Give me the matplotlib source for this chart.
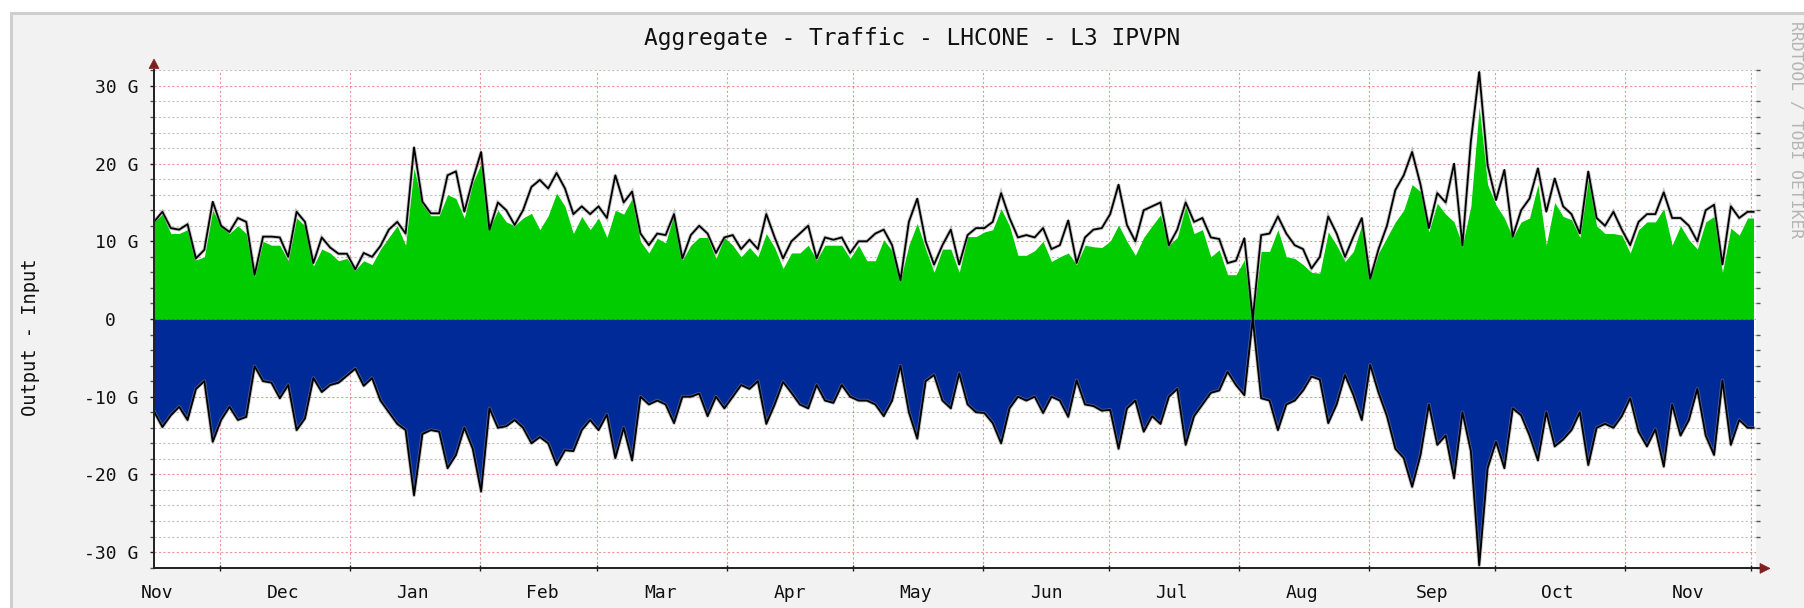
import numpy as np
import matplotlib
matplotlib.use("Agg")
import matplotlib.pyplot as plt
import matplotlib.dates as mdates
import pandas as pd
from matplotlib.patches import Rectangle, Polygon

# ---------------- data (Gb/s, one sample every 2 days) ----------------
start = pd.Timestamp("2016-11-15 07:00")
span_days = 382
sample_days = list(range(0, 381, 2))

# black line, input side (total)
in_total = [
    12.5, 13.8, 11.7, 11.5, 12.2, 7.8, 8.9, 15.1, 12.0, 11.2,
    13.0, 12.5, 5.7, 10.6, 10.6, 10.5, 8.0, 13.8, 12.5, 7.2,
    10.5, 9.2, 8.4, 8.4, 6.4, 8.5, 8.0, 9.4, 11.5, 12.5,
    11.0, 22.1, 15.1, 13.6, 13.6, 18.5, 19.0, 13.8, 17.9, 21.5,
    11.5, 15.0, 14.0, 12.1, 14.0, 17.0, 17.9, 16.8, 18.8, 16.8,
    13.5, 14.5, 13.5, 14.5, 13.0, 18.5, 15.0, 16.4, 11.0, 9.5,
    11.0, 10.8, 13.5, 7.8, 10.8, 12.0, 11.0, 8.5, 10.5, 10.8,
    9.0, 10.2, 9.0, 13.5, 10.5, 7.8, 10.0, 11.0, 12.0, 7.8,
    10.5, 10.2, 10.5, 8.5, 10.0, 10.0, 11.0, 11.5, 9.5, 5.0,
    12.5, 15.5, 10.0, 7.0, 9.5, 11.5, 7.0, 10.8, 11.7, 11.7,
    12.5, 16.2, 13.0, 10.5, 10.8, 10.5, 11.7, 9.0, 9.5, 12.7,
    7.2, 10.5, 11.5, 11.7, 13.5, 17.3, 12.1, 10.0, 14.0, 14.5,
    15.0, 9.5, 11.5, 15.0, 12.5, 13.0, 10.5, 10.3, 7.2, 7.5,
    10.4, 0.0, 10.8, 11.0, 13.2, 11.0, 9.5, 9.0, 6.5, 8.0,
    13.2, 11.0, 8.0, 10.6, 13.0, 5.2, 9.0, 12.0, 16.6, 18.5,
    21.5, 17.3, 11.7, 16.2, 15.0, 20.0, 9.5, 22.8, 31.8, 19.8,
    15.3, 19.2, 10.6, 14.0, 15.5, 19.4, 13.8, 18.1, 14.5, 13.5,
    11.0, 19.0, 13.0, 12.0, 13.8, 11.5, 9.5, 12.5, 13.5, 13.5,
    16.3, 13.0, 13.0, 12.0, 10.0, 14.0, 14.7, 7.0, 14.5, 13.0,
    13.8,
]

# green area, input side
in_area = [
    12.5, 13.5, 11.0, 11.0, 11.5, 7.6, 8.0, 14.0, 12.0, 11.0,
    12.0, 11.0, 5.5, 10.0, 9.5, 9.5, 7.5, 13.0, 12.0, 6.8,
    9.0, 8.5, 7.5, 7.8, 6.3, 7.5, 7.0, 9.0, 10.5, 12.0,
    9.5, 19.4, 14.8, 13.3, 13.3, 16.0, 15.5, 13.0, 17.5, 20.0,
    11.7, 14.0, 12.5, 12.0, 13.0, 13.6, 11.5, 13.3, 16.2, 14.5,
    11.0, 13.2, 11.5, 13.0, 10.5, 14.0, 13.5, 15.5, 10.0, 8.5,
    10.4, 9.8, 13.5, 7.6, 9.5, 10.5, 10.5, 7.8, 10.5, 9.5,
    8.0, 9.2, 8.0, 11.0, 9.2, 6.5, 8.5, 8.5, 9.5, 7.6,
    9.5, 9.5, 9.5, 7.8, 9.5, 7.5, 7.5, 10.2, 8.8, 5.0,
    9.5, 12.3, 9.0, 6.0, 9.0, 9.0, 6.0, 10.6, 10.6, 11.2,
    11.5, 14.2, 12.0, 8.2, 8.2, 8.8, 10.0, 7.4, 8.0, 8.5,
    7.0, 9.5, 9.3, 9.2, 10.0, 12.1, 10.0, 8.2, 10.5, 12.0,
    13.4, 9.5, 10.5, 14.5, 11.0, 11.5, 8.0, 8.9, 5.7, 5.7,
    7.6, 0.0, 8.7, 8.7, 11.5, 8.0, 7.8, 7.0, 6.0, 5.9,
    11.2, 9.5, 7.4, 8.7, 12.1, 5.2, 8.5, 10.5, 12.5, 14.0,
    17.3, 16.4, 11.2, 14.9, 13.5, 12.5, 9.5, 14.5, 27.3, 17.3,
    14.7, 13.0, 10.5, 12.5, 13.0, 17.3, 9.5, 15.0, 13.2, 12.8,
    10.5, 17.9, 12.0, 11.0, 11.0, 10.8, 8.5, 11.5, 12.5, 12.5,
    14.2, 9.5, 12.0, 10.2, 9.0, 12.5, 13.2, 6.0, 11.7, 10.8,
    13.0,
]

# output side (plotted below zero)
out_total = [
    11.9, 13.9, 12.4, 11.3, 13.0, 9.0, 8.0, 15.8, 13.0, 11.3,
    13.0, 12.6, 6.1, 8.0, 8.2, 10.2, 8.5, 14.3, 12.8, 7.6,
    9.4, 8.5, 8.2, 7.3, 6.4, 8.6, 7.6, 10.5, 12.0, 13.5,
    14.3, 22.7, 14.8, 14.3, 14.5, 19.2, 17.5, 14.0, 16.7, 22.2,
    11.5, 14.0, 13.8, 13.0, 14.0, 16.0, 15.2, 16.0, 18.8, 16.9,
    17.0, 14.3, 13.0, 14.3, 12.3, 17.9, 14.0, 18.2, 10.0, 11.0,
    10.5, 11.0, 13.4, 10.0, 10.0, 9.6, 12.5, 10.0, 11.5, 10.0,
    8.5, 9.0, 8.0, 13.5, 11.0, 8.1, 9.5, 11.0, 11.5, 8.5,
    10.5, 10.8, 8.5, 10.0, 10.5, 10.5, 11.0, 12.5, 10.5, 6.0,
    12.0, 15.4, 8.0, 7.2, 10.5, 11.5, 7.0, 11.0, 12.0, 12.1,
    13.4, 16.0, 11.5, 10.0, 10.5, 10.0, 12.1, 10.0, 10.5, 12.6,
    7.9, 11.0, 11.2, 11.8, 11.7, 16.7, 11.5, 10.5, 14.5, 12.5,
    13.5, 10.0, 9.0, 16.2, 12.5, 11.0, 9.5, 9.2, 6.8, 8.5,
    9.8, 0.0, 10.2, 10.5, 14.3, 11.0, 10.5, 9.2, 7.4, 7.8,
    13.4, 11.0, 7.2, 9.8, 13.0, 5.9, 9.5, 12.5, 16.7, 17.9,
    21.6, 17.5, 11.0, 16.2, 15.0, 20.5, 12.0, 17.0, 31.7, 19.2,
    15.8, 19.2, 11.5, 12.4, 15.0, 18.2, 12.0, 16.4, 15.5, 14.3,
    12.0, 18.8, 14.0, 13.5, 14.0, 12.5, 10.2, 14.5, 16.4, 14.2,
    19.0, 11.0, 15.0, 13.0, 9.0, 15.0, 17.5, 7.9, 16.2, 13.0,
    14.0,
]

y_ticks = [-30, -20, -10, 0, 10, 20, 30]
y_tick_labels = ["-30 G", "-20 G", "-10 G", "0  ", "10 G", "20 G", "30 G"]
month_labels = ["Nov", "Dec", "Jan", "Feb", "Mar", "Apr", "May",
                "Jun", "Jul", "Aug", "Sep", "Oct", "Nov"]
label_dates = pd.date_range("2016-11-01", periods=13, freq="MS") + pd.Timedelta(days=15)
grid_dates = pd.date_range("2016-12-01", periods=13, freq="MS")

title = "Aggregate - Traffic - LHCONE - L3 IPVPN"
ylabel = "Output - Input"
watermark = "RRDTOOL / TOBI OETIKER"

# ---------------- styling ----------------
GREEN = "#00CC00"
BLUE = "#002A97"
BACK = "#F2F2F2"
SHADE = "#CFCFCF"
MGRID = (0.87, 0.31, 0.31, 0.6)
GRID = (0.56, 0.56, 0.56, 0.55)
ARROW = "#801F1F"
AXIS = "#1F1F1F"
MONO = "DejaVu Sans Mono"

W, H = 1804, 608
fig = plt.figure(figsize=(W / 100, H / 100), dpi=100, facecolor="white")


def fx(px):
    return px / W


def fy(py):
    return 1 - py / H


fig.patches.append(Rectangle((fx(11), -0.5), 2.0, fy(13) + 0.5,
                             transform=fig.transFigure, facecolor=BACK,
                             edgecolor=SHADE, linewidth=2.2, zorder=-10))

ax_l, ax_r, ax_t, ax_b = 154, 1756, 69.6, 568.4
ax = fig.add_axes([fx(ax_l), fy(ax_b), (ax_r - ax_l) / W, (ax_b - ax_t) / H])
ax.set_zorder(2)
ax.set_facecolor("white")

x0 = mdates.date2num(start)
x = x0 + np.array(sample_days + [span_days - 0.6], dtype=float)
yin_t = np.array(in_total + [in_total[-1]])
yin_a = np.array(in_area + [in_area[-1]])
yout = -np.array(out_total + [out_total[-1]])

ax.set_xlim(x0, x0 + span_days)
ax.set_ylim(-32.1, 32.1)

# grid
for yv in np.arange(-32, 33, 2):
    if yv % 10 == 0:
        continue
    ax.axhline(yv, color=GRID, lw=0.8, ls=(0, (2, 2)), zorder=0.5)
for yv in y_ticks:
    ax.axhline(yv, color=MGRID, lw=0.8, ls=(0, (2, 2)), zorder=0.6)
for d in grid_dates:
    ax.axvline(mdates.date2num(d), color=MGRID, lw=0.8, ls=(0, (2, 2)), zorder=0.6)

# data
ax.fill_between(x, 0, yin_a, color=GREEN, lw=0, zorder=2)
ax.fill_between(x, 0, yout, color=BLUE, lw=0, zorder=2)
ax.plot(x, yin_t, color="#8a8a8a", lw=2.6, alpha=0.5, zorder=2.9,
        solid_joinstyle="miter")
ax.plot(x, yin_t, color="black", lw=1.3, zorder=3)
ax.plot(x, yout, color="#8a8a8a", lw=2.6, alpha=0.5, zorder=2.9)
ax.plot(x, yout, color="black", lw=1.3, zorder=3)

# axes
for s in ("top", "right"):
    ax.spines[s].set_visible(False)
for s in ("left", "bottom"):
    ax.spines[s].set_color(AXIS)
    ax.spines[s].set_linewidth(1.4)
    ax.spines[s].set_zorder(4)

ax.set_yticks(y_ticks)
ax.set_yticklabels(y_tick_labels, family=MONO, fontsize=13, color="#111111")
ax.set_yticks(np.arange(-32, 33, 2), minor=True)
ax.tick_params(axis="y", which="major", direction="out", length=3, width=1,
               color=AXIS, pad=8.5)
ax.tick_params(axis="y", which="minor", direction="out", length=3, width=1,
               color="#555555", right=True)

ax.set_xticks([mdates.date2num(d) for d in grid_dates])
ax.set_xticklabels([])
ax.set_xticks([mdates.date2num(d) for d in label_dates], minor=True)
ax.set_xticklabels(month_labels, minor=True, family=MONO, fontsize=13,
                   color="#111111")
ax.tick_params(axis="x", which="major", direction="inout", length=5, width=1,
               color=AXIS)
ax.tick_params(axis="x", which="minor", length=0, pad=11)

# arrows
ax.add_patch(Polygon([(-0.0031, 1.0022), (0.0031, 1.0022), (0.0, 1.0212)],
                     closed=True, transform=ax.transAxes, clip_on=False,
                     facecolor=ARROW, edgecolor=ARROW, lw=0.5, zorder=5))
ax.plot([1.0, 1.0025], [0, 0], transform=ax.transAxes, clip_on=False,
        color=AXIS, lw=1.4, zorder=5)
ax.add_patch(Polygon([(1.0025, -0.0100), (1.0025, 0.0100), (1.0087, 0.0)],
                     closed=True, transform=ax.transAxes, clip_on=False,
                     facecolor=ARROW, edgecolor=ARROW, lw=0.5, zorder=5))

# texts
fig.text(fx(912), fy(38), title, family=MONO, fontsize=16.5, color="#111111",
         ha="center", va="center")
fig.text(fx(31), fy(337), ylabel, family=MONO, fontsize=13.5, color="#111111",
         rotation=90, ha="center", va="center")
fig.text(fx(1795), fy(130), watermark, family=MONO, fontsize=11.8,
         color="#B5B5B5", rotation=270, ha="center", va="center")

fig.savefig("out.png", dpi=100, facecolor=fig.get_facecolor())
